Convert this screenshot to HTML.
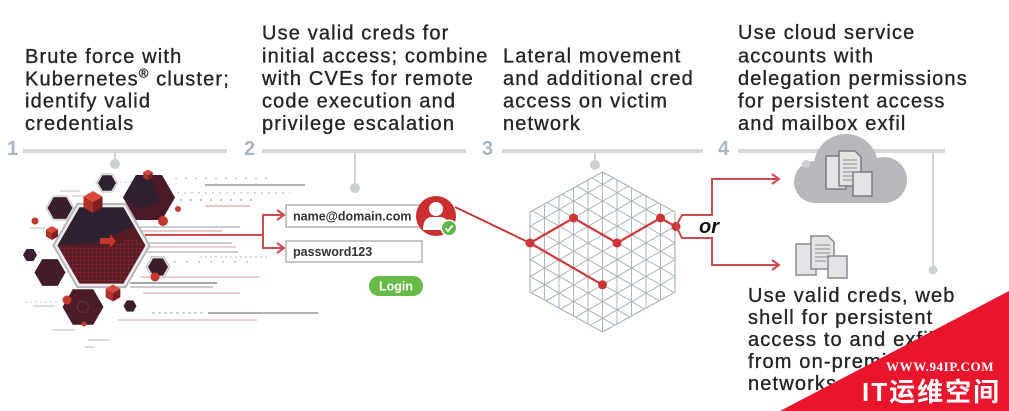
<!DOCTYPE html>
<html><head><meta charset="utf-8"><style>
html,body{margin:0;padding:0;background:#fff;width:1009px;height:411px;overflow:hidden;}
svg{display:block;}
.t{font-family:"Liberation Sans",Arial,sans-serif;font-size:20px;fill:#252525;stroke:#252525;stroke-width:0.35px;letter-spacing:1.15px;}
.n{font-family:"Liberation Sans",Arial,sans-serif;font-size:20px;font-weight:bold;fill:#a7b6c4;}
.f{font-family:"Liberation Sans",Arial,sans-serif;font-size:12.5px;font-weight:bold;fill:#333;}
</style></head><body>
<svg width="1009" height="411" viewBox="0 0 1009 411" xmlns="http://www.w3.org/2000/svg">
<defs>
<pattern id="gp" width="4" height="4" patternUnits="userSpaceOnUse"><path d="M0 0H4M0 0V4" stroke="#a12e33" stroke-width="0.8" fill="none"/></pattern>
<clipPath id="hc"><polygon points="602.5,172 675,212 675,292 602.5,332 530,292 530,212"/></clipPath>
</defs>
<rect width="1009" height="411" fill="#fff"/>

<!-- headings -->
<text class="t" x="25" y="63">Brute force with</text>
<text class="t" x="25" y="85.3">Kubernetes<tspan font-size="13" dy="-8">®</tspan><tspan dy="8"> cluster;</tspan></text>
<text class="t" x="25" y="107.6">identify valid</text>
<text class="t" x="25" y="130">credentials</text>

<text class="t" x="262" y="39.3">Use valid creds for</text>
<text class="t" x="262" y="62.5">initial access; combine</text>
<text class="t" x="262" y="85">with CVEs for remote</text>
<text class="t" x="262" y="107.4">code execution and</text>
<text class="t" x="262" y="130">privilege escalation</text>

<text class="t" x="503" y="62.5">Lateral movement</text>
<text class="t" x="503" y="85">and additional cred</text>
<text class="t" x="503" y="107.4">access on victim</text>
<text class="t" x="503" y="130">network</text>

<text class="t" x="738" y="38.8">Use cloud service</text>
<text class="t" x="738" y="62.5">accounts with</text>
<text class="t" x="738" y="85">delegation permissions</text>
<text class="t" x="738" y="107.4">for persistent access</text>
<text class="t" x="738" y="130">and mailbox exfil</text>

<text class="t" x="748" y="302">Use valid creds, web</text>
<text class="t" x="748" y="324">shell for persistent</text>
<text class="t" x="748" y="346">access to and exfil</text>
<text class="t" x="748" y="368">from on-premises</text>
<text class="t" x="748" y="390">networks</text>

<!-- timeline -->
<text class="n" x="7" y="155">1</text>
<text class="n" x="244" y="155">2</text>
<text class="n" x="482" y="155">3</text>
<text class="n" x="718" y="155">4</text>
<g fill="#d6d9dc">
<rect x="23" y="149" width="204" height="4"/>
<rect x="262" y="149" width="204" height="4"/>
<rect x="502" y="149" width="201" height="4"/>
<rect x="738" y="149" width="207" height="4"/>
</g>
<g stroke="#d0d3d7" stroke-width="2" fill="#cdd0d4">
<line x1="115" y1="152" x2="115" y2="163"/>
<line x1="355" y1="152" x2="355" y2="187"/>
<line x1="595" y1="152" x2="595" y2="164"/>
<line x1="933" y1="152" x2="933" y2="268"/>
</g>
<g fill="#cdd0d4">
<circle cx="115" cy="164" r="5"/>
<circle cx="355" cy="188" r="5"/>
<circle cx="595" cy="165" r="5"/>
<circle cx="933" cy="270" r="4.5"/>
</g>

<!-- streak lines -->
<g stroke-width="1.3" fill="none">
<line x1="205" y1="185" x2="305" y2="185" stroke="#7d838b"/>
<line x1="175" y1="178.5" x2="270" y2="178.5" stroke="#b9bec4" stroke-dasharray="2 8"/>
<line x1="170" y1="193" x2="290" y2="193" stroke="#b9bec4" stroke-dasharray="2 5"/>
<line x1="180" y1="200" x2="255" y2="200" stroke="#9aa0a8" stroke-dasharray="2 8"/>
<line x1="205" y1="206" x2="250" y2="206" stroke="#e3a3a3"/>
<line x1="140" y1="227" x2="240" y2="227" stroke="#a9aeb5"/>
<line x1="140" y1="231" x2="222" y2="231" stroke="#e6a9a9"/>
<line x1="140" y1="243" x2="232" y2="243" stroke="#a9aeb5"/>
<line x1="140" y1="247" x2="236" y2="247" stroke="#eab2b2"/>
<line x1="140" y1="252" x2="238" y2="252" stroke="#a9aeb5"/>
<line x1="200" y1="257" x2="270" y2="257" stroke="#c3c7cc" stroke-dasharray="2 3"/>
<line x1="150" y1="262" x2="255" y2="262" stroke="#aeb3b9" stroke-dasharray="2 10"/>
<line x1="140" y1="277" x2="260" y2="277" stroke="#e8b2b2"/>
<line x1="130" y1="283" x2="217" y2="283" stroke="#6f757d"/>
<line x1="130" y1="287" x2="213" y2="287" stroke="#a9aeb5"/>
<line x1="143" y1="293" x2="240" y2="293" stroke="#e6aaaa"/>
<line x1="208" y1="313" x2="318" y2="313" stroke="#7d838b"/>
<line x1="152" y1="313" x2="205" y2="313" stroke="#b7bcc2" stroke-dasharray="3 3"/>
<line x1="117" y1="320" x2="257" y2="320" stroke="#e8b8b8"/>
<line x1="60" y1="191" x2="80" y2="191" stroke="#c9cbcf"/>
<line x1="72" y1="196" x2="84" y2="196" stroke="#c9cbcf"/>
<line x1="18" y1="252" x2="40" y2="252" stroke="#d2d4d7" stroke-dasharray="2 2"/>
<line x1="25" y1="302" x2="60" y2="302" stroke="#d2d4d7" stroke-dasharray="2 3"/>
<line x1="33" y1="306" x2="55" y2="306" stroke="#c5c8cc"/>
<line x1="52" y1="330" x2="75" y2="330" stroke="#c5c8cc"/>
<line x1="88" y1="340" x2="110" y2="340" stroke="#c5c8cc"/>
<line x1="85" y1="347" x2="95" y2="347" stroke="#c5c8cc"/>
<line x1="95" y1="182" x2="170" y2="182" stroke="#d2d4d7" stroke-dasharray="2 3"/>
<line x1="30" y1="228" x2="45" y2="228" stroke="#c5c8cc"/>
</g>

<!-- hex cluster -->
<g>
<polygon points="1,0 .5,.866 -.5,.866 -1,0 -.5,-.866 .5,-.866" transform="translate(101.5,245.5) scale(48)" fill="#eeeef0" stroke="#b5b6bb" stroke-width="2" vector-effect="non-scaling-stroke"/>
<polygon points="1,0 .5,.866 -.5,.866 -1,0 -.5,-.866 .5,-.866" transform="translate(101.5,245.5) scale(44)" fill="#571b24"/>
<polygon points="57.5,245.5 79.5,207.4 123.5,207.4 134,226 112,236 96,243" fill="#2d2131"/>
<polygon points="57.5,245.5 79.5,283.6 123.5,283.6 145.5,245.5 134,238 96,248" fill="url(#gp)"/>
<polygon points="100,238 110,238 110,234 116,241 110,248 110,244 100,244" fill="#c0392b"/>
<!-- top right hex -->
<polygon points="1,0 .5,.866 -.5,.866 -1,0 -.5,-.866 .5,-.866" transform="translate(149,197.5) scale(26)" fill="#4a1b27"/>
<polygon points="1,0 .5,.866 -.5,.866 -1,0 -.5,-.866 .5,-.866" transform="translate(144,195) scale(10)" fill="none" stroke="#7a2a33" stroke-width="1" vector-effect="non-scaling-stroke"/>
<polygon points="123,197.5 136,175 150,175 160,200 140,210" fill="#2f2030"/>
<!-- other dark hexes -->
<polygon points="1,0 .5,.866 -.5,.866 -1,0 -.5,-.866 .5,-.866" transform="translate(107,183) scale(10.5)" fill="#eeeef0" stroke="#c5c6ca" stroke-width="1" vector-effect="non-scaling-stroke"/>
<polygon points="1,0 .5,.866 -.5,.866 -1,0 -.5,-.866 .5,-.866" transform="translate(107,183) scale(9)" fill="#2f2131"/>
<polygon points="1,0 .5,.866 -.5,.866 -1,0 -.5,-.866 .5,-.866" transform="translate(60,208) scale(14)" fill="#eeeef0" stroke="#c5c6ca" stroke-width="1" vector-effect="non-scaling-stroke"/>
<polygon points="1,0 .5,.866 -.5,.866 -1,0 -.5,-.866 .5,-.866" transform="translate(60,208) scale(12.5)" fill="#3a1d2c"/>
<polygon points="1,0 .5,.866 -.5,.866 -1,0 -.5,-.866 .5,-.866" transform="translate(30,255) scale(7)" fill="#3a2030"/>
<polygon points="1,0 .5,.866 -.5,.866 -1,0 -.5,-.866 .5,-.866" transform="translate(50,272.5) scale(15.5)" fill="#421c29"/>
<polygon points="1,0 .5,.866 -.5,.866 -1,0 -.5,-.866 .5,-.866" transform="translate(158,267) scale(12)" fill="#e6e6e9" stroke="#bfc0c4" stroke-width="1" vector-effect="non-scaling-stroke"/>
<polygon points="1,0 .5,.866 -.5,.866 -1,0 -.5,-.866 .5,-.866" transform="translate(158,267) scale(10)" fill="#3c1c2a"/>
<polygon points="1,0 .5,.866 -.5,.866 -1,0 -.5,-.866 .5,-.866" transform="translate(83,307) scale(20.5)" fill="#4a1c27"/>
<polygon points="1,0 .5,.866 -.5,.866 -1,0 -.5,-.866 .5,-.866" transform="translate(83,307) scale(6)" fill="none" stroke="#7a2a33" stroke-width="1" vector-effect="non-scaling-stroke"/>
<polygon points="1,0 .5,.866 -.5,.866 -1,0 -.5,-.866 .5,-.866" transform="translate(130,306) scale(6.5)" fill="#3a1e2d"/>
<!-- red cubes -->
<g transform="translate(93,202) scale(11)"><polygon points="0,-1 .866,-.5 0,0 -.866,-.5" fill="#d9493a"/><polygon points="-.866,-.5 0,0 0,1 -.866,.5" fill="#b0302a"/><polygon points="0,0 .866,-.5 .866,.5 0,1" fill="#7e1f24"/></g>
<g transform="translate(52,233) scale(7)"><polygon points="0,-1 .866,-.5 0,0 -.866,-.5" fill="#d9493a"/><polygon points="-.866,-.5 0,0 0,1 -.866,.5" fill="#b0302a"/><polygon points="0,0 .866,-.5 .866,.5 0,1" fill="#7e1f24"/></g>
<g transform="translate(113,293) scale(8.5)"><polygon points="0,-1 .866,-.5 0,0 -.866,-.5" fill="#d9493a"/><polygon points="-.866,-.5 0,0 0,1 -.866,.5" fill="#b0302a"/><polygon points="0,0 .866,-.5 .866,.5 0,1" fill="#7e1f24"/></g>
<g transform="translate(148,175) scale(5.5)"><polygon points="0,-1 .866,-.5 0,0 -.866,-.5" fill="#d9493a"/><polygon points="-.866,-.5 0,0 0,1 -.866,.5" fill="#b0302a"/><polygon points="0,0 .866,-.5 .866,.5 0,1" fill="#7e1f24"/></g>
<g fill="#c4392d">
<circle cx="35" cy="221" r="3.5"/>
<circle cx="163" cy="221" r="5"/>
<circle cx="178" cy="209" r="3"/>
<circle cx="155" cy="277" r="4.5"/>
<circle cx="67" cy="300" r="4.5"/>
<circle cx="84" cy="324" r="2.5"/>
</g>
</g>

<!-- login connectors -->
<g stroke="#cf4a4c" stroke-width="2" fill="none" stroke-linejoin="miter">
<polyline points="145,235 263,235"/>
<polyline points="283,215 263,215 263,248 283,248"/>
<polyline points="277,210 284,215 277,220"/>
<polyline points="277,243 284,248 277,253"/>
</g>

<!-- form -->
<rect x="286" y="205" width="136" height="22" fill="#fff" stroke="#b3b3b3" stroke-width="1.5"/>
<rect x="286" y="241" width="136" height="21" fill="#fff" stroke="#b3b3b3" stroke-width="1.5"/>
<text class="f" x="293" y="220.5">name@domain.com</text>
<text class="f" x="293" y="256">password123</text>
<rect x="369" y="276" width="54" height="20" rx="10" fill="#66bb47"/>
<text x="396" y="290.5" text-anchor="middle" font-family="Liberation Sans, Arial, sans-serif" font-size="12.5" font-weight="bold" fill="#fff">Login</text>

<!-- user icon -->
<line x1="455" y1="207" x2="530" y2="243" stroke="#c73a3c" stroke-width="2"/>
<circle cx="436" cy="216" r="20" fill="#c9302f"/>
<circle cx="436" cy="209" r="7" fill="#fff"/>
<path d="M423 230 Q423 218 431 217 L441 217 Q449 218 449 230 Z" fill="#fff"/>
<circle cx="449" cy="228" r="8.5" fill="#fff"/>
<circle cx="449" cy="228" r="7" fill="#5fb946"/>
<polyline points="445.5,228.5 448,231 452.5,225.5" fill="none" stroke="#fff" stroke-width="1.8"/>

<!-- network lattice -->
<g clip-path="url(#hc)" stroke="#a9b5c0" stroke-width="1" fill="none">
<path d="M530 165V340M544.5 165V340M559 165V340M573.5 165V340M588 165V340M602.5 165V340M617 165V340M631.5 165V340M646 165V340M660.5 165V340M675 165V340"/>
<path d="M520 119.82L685 215.09M520 136.56L685 231.83M520 153.3L685 248.57M520 170.04L685 265.31M520 186.78L685 282.05M520 203.52L685 298.79M520 220.26L685 315.53M520 237L685 332.27M520 253.74L669.4 340M520 270.48L640.4 340M520 287.22L611.4 340M520 303.96L582.4 340M520 320.7L553.4 340"/>
<path d="M520 181.84L685 86.57M520 198.58L685 103.31M520 215.32L685 120.05M520 232.06L685 136.79M520 248.8L685 153.53M520 265.54L685 170.27M520 282.28L685 187.01M520 299.02L685 203.75M520 315.76L685 220.49M520 332.5L685 237.23M536 340L685 253.97M565 340L685 270.71M594 340L685 287.45"/>
</g>
<polygon points="602.5,172 675,212 675,292 602.5,332 530,292 530,212" fill="none" stroke="#a9b5c0" stroke-width="1.2"/>
<g stroke="#cc3a3a" stroke-width="2.2" fill="none">
<polyline points="530,243 573.5,218 617,243 660.5,218 675,226.3"/>
<line x1="530" y1="243" x2="602.5" y2="284.8"/>
</g>
<g fill="#cc3535">
<circle cx="530" cy="243" r="4.5"/>
<circle cx="573.5" cy="218" r="4.5"/>
<circle cx="617" cy="243" r="4.5"/>
<circle cx="660.5" cy="218" r="4.5"/>
<circle cx="676" cy="226.5" r="4.5"/>
<circle cx="602.5" cy="284.8" r="4.5"/>
</g>

<!-- or bracket -->
<g stroke="#cf4a4c" stroke-width="2" fill="none">
<polyline points="676,226 682,215 712,215 712,179 779,179"/>
<polyline points="676,226 682,238 712,238 712,265 779,265"/>
<polyline points="772,174 779,179 772,184"/>
<polyline points="772,260 779,265 772,270"/>
</g>
<text x="699" y="233" font-family="Liberation Sans, Arial, sans-serif" font-size="20" font-weight="bold" font-style="italic" fill="#111">or</text>

<!-- cloud -->
<g fill="#b7b8bb">
<circle cx="846" cy="166" r="32"/>
<circle cx="815" cy="182" r="21"/>
<circle cx="884" cy="180" r="23"/>
<rect x="815" y="175" width="70" height="28"/>
</g>
<circle cx="806" cy="164" r="4" fill="#cfd0d3"/>
<g fill="#e4e4e6" stroke="#7b7b80" stroke-width="1.5">
<rect x="826" y="156" width="20" height="33"/>
<path d="M839 151 H855 L861 157 V186 H839 Z"/>
<rect x="853" y="172" width="19" height="24"/>
</g>
<g stroke="#8a8a8f" stroke-width="1"><path d="M843 160H857M843 164H857M843 168H857M843 172H857M843 176H852M843 180H852"/></g>
<g fill="#e4e4e6" stroke="#8a8a8f" stroke-width="1.5">
<rect x="796" y="244" width="20" height="31"/>
<path d="M811 236 H828 L834 242 V269 H811 Z"/>
<rect x="828" y="256" width="19" height="22"/>
</g>
<g stroke="#8a8a8f" stroke-width="1"><path d="M815 245H830M815 249H830M815 253H830M815 257H830M815 261H826"/></g>

<!-- watermark -->
<polygon points="780,411 1009,291 1009,411" fill="#e8152c"/>
<text x="886" y="371" font-family="Liberation Serif, serif" font-size="13" font-weight="bold" fill="#fff" letter-spacing="0.6">WWW.94IP.COM</text>
<text x="862" y="401" font-family="Liberation Sans, Noto Sans CJK SC, sans-serif" font-size="26" font-weight="bold" fill="#fff" letter-spacing="2">IT运维空间</text>
</svg>
</body></html>
